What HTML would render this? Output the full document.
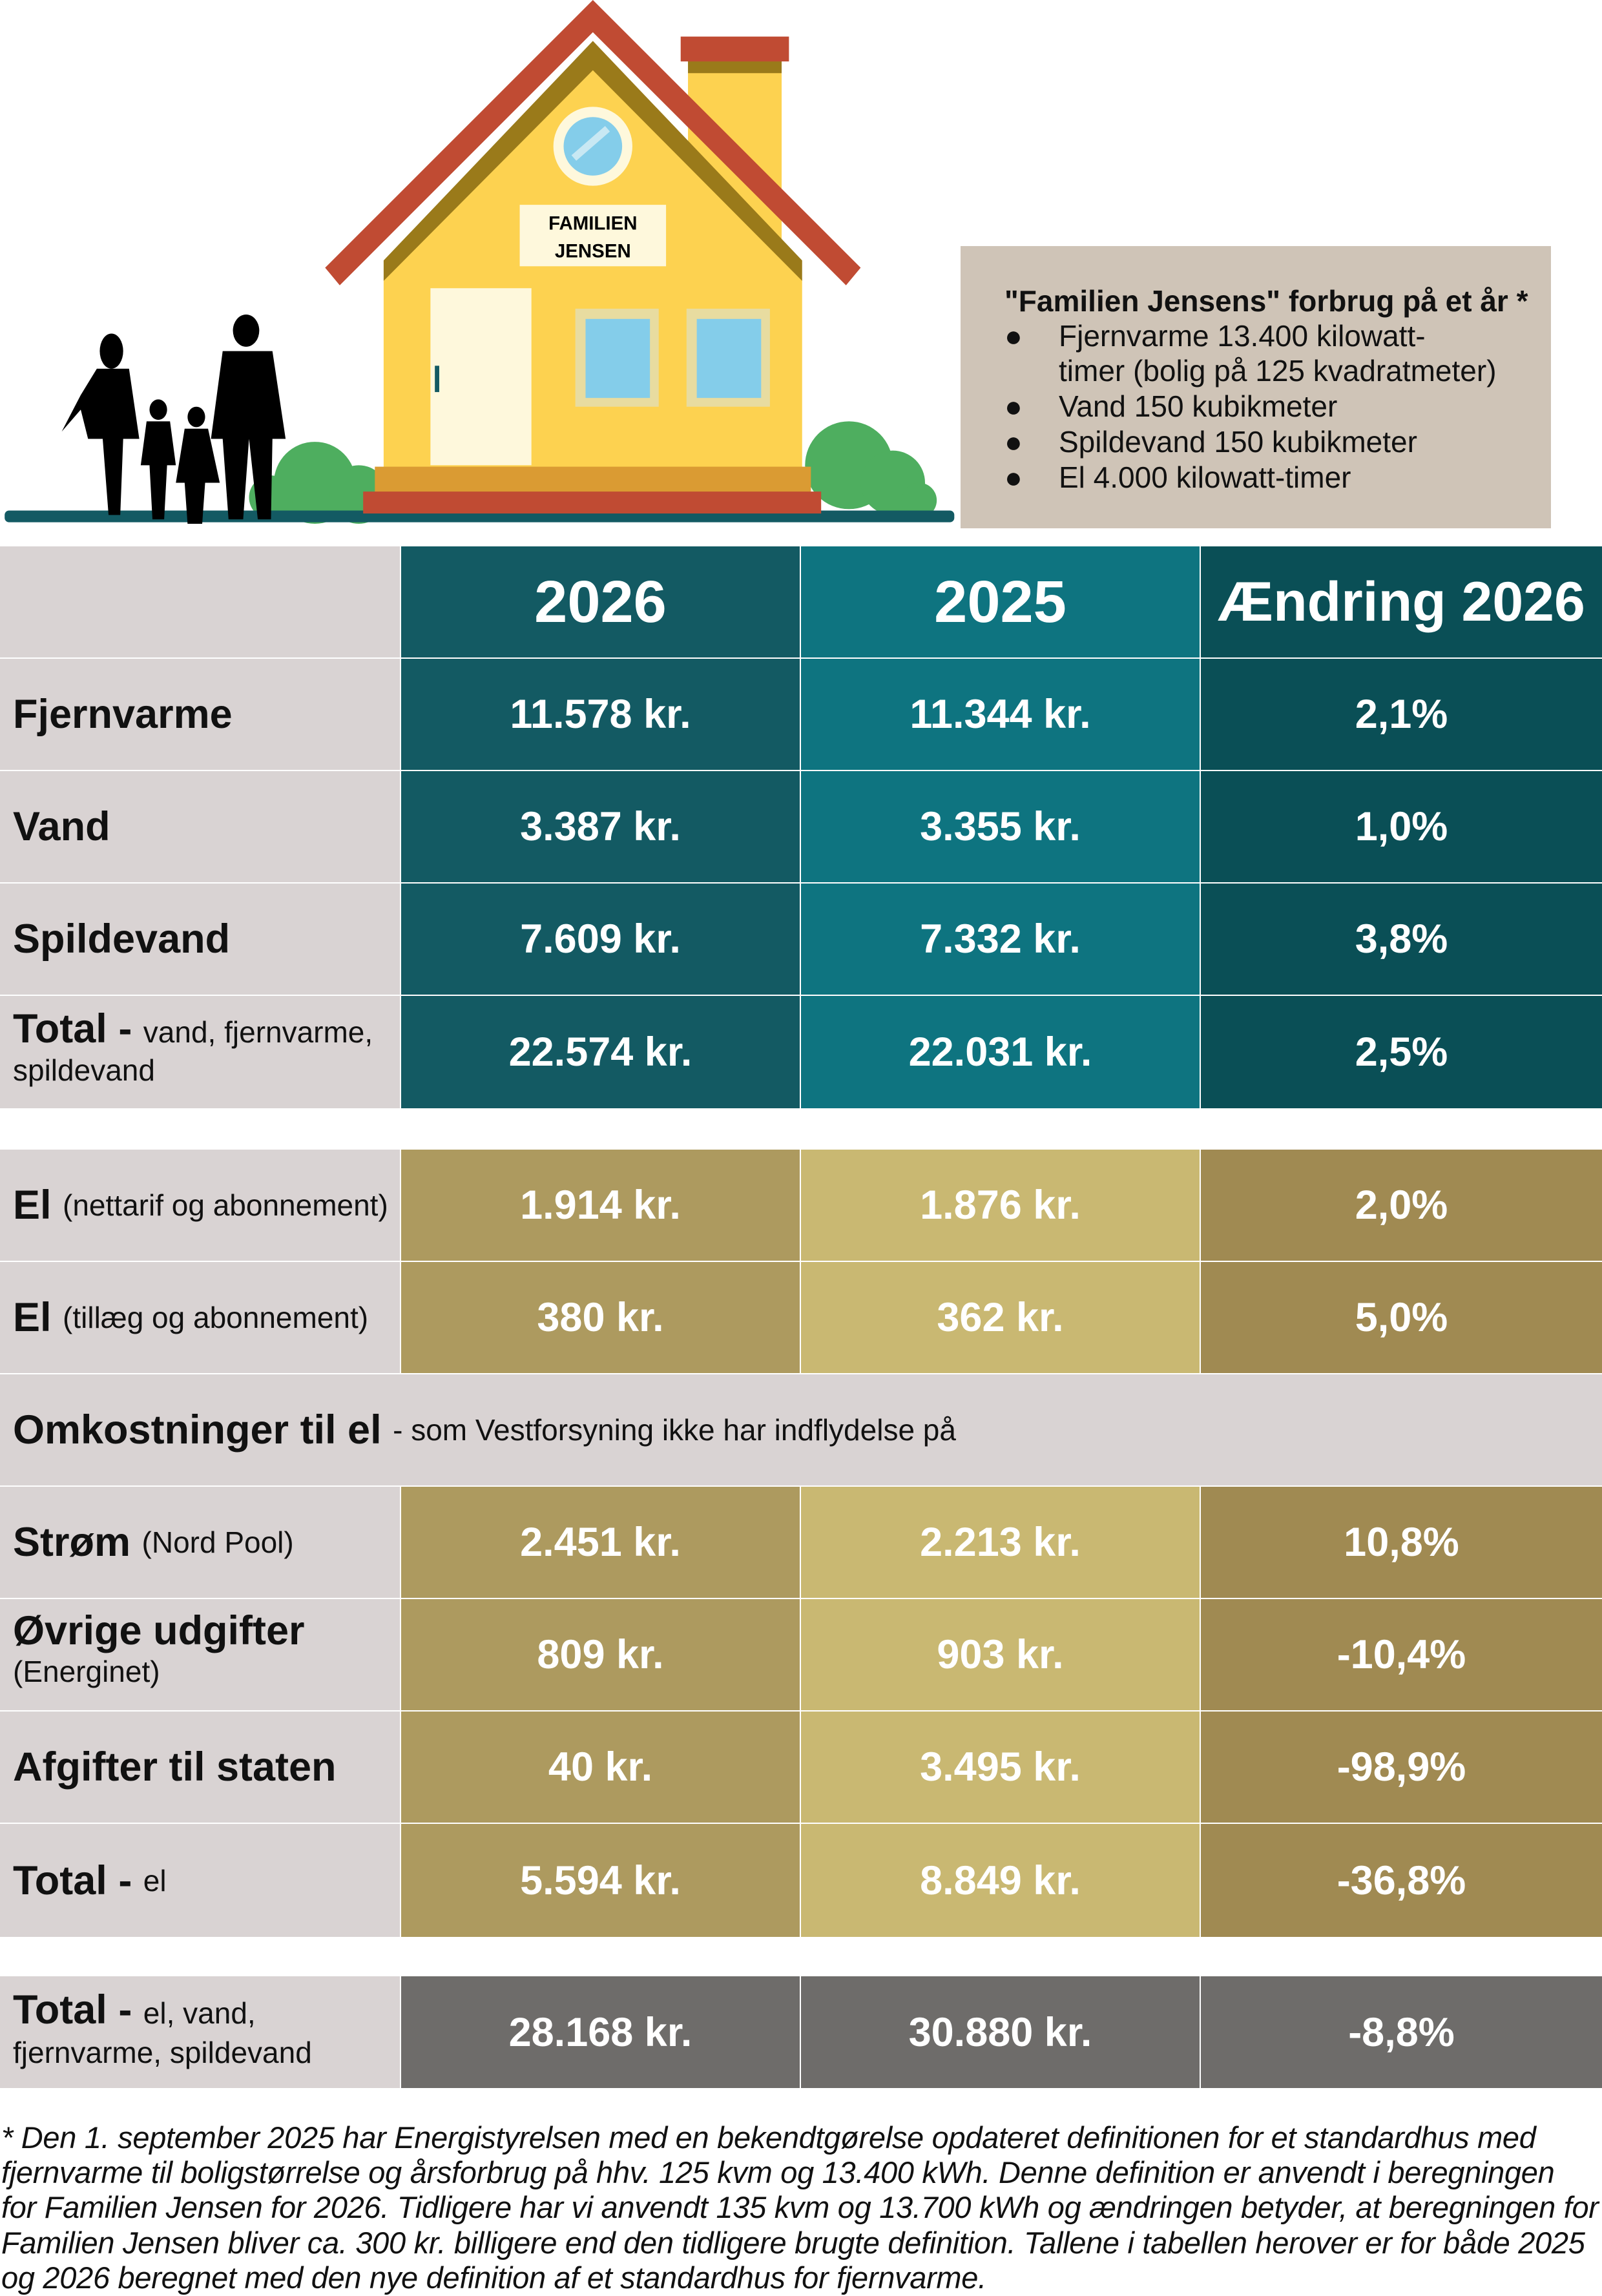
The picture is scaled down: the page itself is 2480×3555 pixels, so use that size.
<!DOCTYPE html>
<html><head><meta charset="utf-8"><style>
*{margin:0;padding:0;box-sizing:border-box}
body{width:2480px;height:3555px;background:#fff;position:relative;overflow:hidden;font-family:"Liberation Sans",sans-serif;color:#111}
.c{position:absolute;display:flex;align-items:center;justify-content:center;color:#fff;font-weight:bold;font-size:63px}
.l{position:absolute;background:#d9d3d3;display:flex;align-items:center;padding-left:20px;font-weight:bold;font-size:63px;color:#111}
.l small{font-weight:normal;font-size:46px}
.h{font-size:92px}
.fn{position:absolute;left:2px;font-style:italic;font-size:47px;white-space:nowrap;color:#111;letter-spacing:-0.3px}
.info{position:absolute;left:1487px;top:381px;width:914px;height:437px;background:#cfc4b7;font-size:46px;color:#111}
.info div{position:absolute;white-space:nowrap}
</style></head><body>

<svg style="position:absolute;left:0;top:0" width="1480" height="820" viewBox="0 0 653 362">
<g fill="#4eae5f">
<circle cx="215" cy="330" r="28"/><circle cx="245" cy="338" r="20"/><circle cx="185" cy="340" r="15"/>
<circle cx="580" cy="318" r="30"/><circle cx="610" cy="330" r="22"/><circle cx="628" cy="342" r="12"/>
</g>
<rect x="3" y="349" width="649" height="8" rx="3" fill="#135a63"/>
<rect x="470" y="40" width="64" height="150" fill="#fdd250"/>
<rect x="470" y="40" width="64" height="10" fill="#9a7a1a"/>
<rect x="465" y="25" width="74" height="17" fill="#c04b33"/>
<polygon points="405,45 548,190 548,320 262,320 262,190" fill="#fdd250"/>
<polygon points="405,28 548,178 548,192 405,48 262,192 262,178" fill="#9a7a1a"/>
<polygon points="405,0 588,183 578,195 405,22 232,195 222,183" fill="#c04b33"/>
<ellipse cx="405" cy="100" rx="27" ry="27" fill="#fef8dc"/>
<ellipse cx="405" cy="100" rx="20" ry="20" fill="#84cdea"/>
<line x1="392" y1="108" x2="415" y2="88" stroke="#c8e8f3" stroke-width="5"/>
<rect x="355" y="140" width="100" height="42" fill="#fef8dc"/>
<text x="405" y="157" font-size="13" font-weight="bold" text-anchor="middle" font-family="Liberation Sans,sans-serif">FAMILIEN</text>
<text x="405" y="176" font-size="13" font-weight="bold" text-anchor="middle" font-family="Liberation Sans,sans-serif">JENSEN</text>
<rect x="294" y="197" width="69" height="121" fill="#fef8dc"/>
<rect x="297" y="250" width="3" height="18" fill="#135a63"/>
<rect x="393" y="211" width="57" height="67" fill="#e8dca0"/><rect x="400" y="218" width="44" height="54" fill="#84cdea"/>
<rect x="469" y="211" width="57" height="67" fill="#e8dca0"/><rect x="476" y="218" width="44" height="54" fill="#84cdea"/>
<rect x="256" y="319" width="298" height="18" fill="#da9b33"/>
<rect x="248" y="336" width="313" height="15" fill="#c04b33"/>
<g fill="#000">
<ellipse cx="76" cy="240" rx="8" ry="12"/><path d="M66 252 L88 252 L95 300 L84 300 L82 352 L74 352 L70 300 L60 300 L55 280 L42 295 L55 270Z"/>
<ellipse cx="108" cy="280" rx="6" ry="7"/><path d="M100 288 L116 288 L120 318 L114 318 L112 355 L104 355 L102 318 L96 318Z"/>
<ellipse cx="134" cy="285" rx="6" ry="7"/><path d="M126 293 L142 293 L150 330 L140 330 L138 358 L128 358 L126 330 L120 330Z"/>
<ellipse cx="168" cy="226" rx="9" ry="11"/><path d="M152 240 L186 240 L195 300 L186 300 L185 355 L176 355 L170 300 L166 355 L156 355 L152 300 L144 300Z"/>
</g>
</svg>

<div class="info">
<div style="left:68px;top:58px;font-weight:bold">"Familien Jensens" forbrug på et år *</div>
<div style="left:68px;top:112px">●</div><div style="left:152px;top:112px">Fjernvarme 13.400 kilowatt-</div>
<div style="left:152px;top:166px">timer (bolig på 125 kvadratmeter)</div>
<div style="left:68px;top:221px">●</div><div style="left:152px;top:221px">Vand 150 kubikmeter</div>
<div style="left:68px;top:276px">●</div><div style="left:152px;top:276px">Spildevand 150 kubikmeter</div>
<div style="left:68px;top:331px">●</div><div style="left:152px;top:331px">El 4.000 kilowatt-timer</div>
</div>

<div class="l" style="left:0;top:846px;width:619px;height:172px"></div>
<div class="c h" style="left:621px;top:846px;width:617px;height:172px;background:#135a63">2026</div>
<div class="c h" style="left:1240px;top:846px;width:617px;height:172px;background:#0e7480">2025</div>
<div class="c h" style="left:1859px;top:846px;width:621px;height:172px;background:#0a4f56;font-size:86px">Ændring 2026</div>

<div class="l" style="left:0;top:1020px;width:619px;height:172px">Fjernvarme</div>
<div class="c" style="left:621px;top:1020px;width:617px;height:172px;background:#135a63">11.578 kr.</div>
<div class="c" style="left:1240px;top:1020px;width:617px;height:172px;background:#0e7480">11.344 kr.</div>
<div class="c" style="left:1859px;top:1020px;width:621px;height:172px;background:#0a4f56">2,1%</div>

<div class="l" style="left:0;top:1194px;width:619px;height:172px">Vand</div>
<div class="c" style="left:621px;top:1194px;width:617px;height:172px;background:#135a63">3.387 kr.</div>
<div class="c" style="left:1240px;top:1194px;width:617px;height:172px;background:#0e7480">3.355 kr.</div>
<div class="c" style="left:1859px;top:1194px;width:621px;height:172px;background:#0a4f56">1,0%</div>

<div class="l" style="left:0;top:1368px;width:619px;height:172px">Spildevand</div>
<div class="c" style="left:621px;top:1368px;width:617px;height:172px;background:#135a63">7.609 kr.</div>
<div class="c" style="left:1240px;top:1368px;width:617px;height:172px;background:#0e7480">7.332 kr.</div>
<div class="c" style="left:1859px;top:1368px;width:621px;height:172px;background:#0a4f56">3,8%</div>

<div class="l" style="left:0;top:1542px;width:619px;height:174px;display:block;padding-top:24px;line-height:54px">Total - <small>vand, fjernvarme,</small><br><small>spildevand</small></div>
<div class="c" style="left:621px;top:1542px;width:617px;height:174px;background:#135a63">22.574 kr.</div>
<div class="c" style="left:1240px;top:1542px;width:617px;height:174px;background:#0e7480">22.031 kr.</div>
<div class="c" style="left:1859px;top:1542px;width:621px;height:174px;background:#0a4f56">2,5%</div>

<div class="l" style="left:0;top:1780px;width:619px;height:172px">El&nbsp;<small>(nettarif og abonnement)</small></div>
<div class="c" style="left:621px;top:1780px;width:617px;height:172px;background:#ad9a5f">1.914 kr.</div>
<div class="c" style="left:1240px;top:1780px;width:617px;height:172px;background:#c9b872">1.876 kr.</div>
<div class="c" style="left:1859px;top:1780px;width:621px;height:172px;background:#a08a52">2,0%</div>

<div class="l" style="left:0;top:1954px;width:619px;height:172px">El&nbsp;<small>(tillæg og abonnement)</small></div>
<div class="c" style="left:621px;top:1954px;width:617px;height:172px;background:#ad9a5f">380 kr.</div>
<div class="c" style="left:1240px;top:1954px;width:617px;height:172px;background:#c9b872">362 kr.</div>
<div class="c" style="left:1859px;top:1954px;width:621px;height:172px;background:#a08a52">5,0%</div>

<div class="l" style="left:0;top:2128px;width:2480px;height:172px">Omkostninger til el&nbsp;<small>- som Vestforsyning ikke har indflydelse på</small></div>

<div class="l" style="left:0;top:2302px;width:619px;height:172px">Strøm&nbsp;<small>(Nord Pool)</small></div>
<div class="c" style="left:621px;top:2302px;width:617px;height:172px;background:#ad9a5f">2.451 kr.</div>
<div class="c" style="left:1240px;top:2302px;width:617px;height:172px;background:#c9b872">2.213 kr.</div>
<div class="c" style="left:1859px;top:2302px;width:621px;height:172px;background:#a08a52">10,8%</div>

<div class="l" style="left:0;top:2476px;width:619px;height:172px;display:block;padding-top:20px;line-height:58px">Øvrige udgifter<br><small>(Energinet)</small></div>
<div class="c" style="left:621px;top:2476px;width:617px;height:172px;background:#ad9a5f">809 kr.</div>
<div class="c" style="left:1240px;top:2476px;width:617px;height:172px;background:#c9b872">903 kr.</div>
<div class="c" style="left:1859px;top:2476px;width:621px;height:172px;background:#a08a52">-10,4%</div>

<div class="l" style="left:0;top:2650px;width:619px;height:172px">Afgifter til staten</div>
<div class="c" style="left:621px;top:2650px;width:617px;height:172px;background:#ad9a5f">40 kr.</div>
<div class="c" style="left:1240px;top:2650px;width:617px;height:172px;background:#c9b872">3.495 kr.</div>
<div class="c" style="left:1859px;top:2650px;width:621px;height:172px;background:#a08a52">-98,9%</div>

<div class="l" style="left:0;top:2824px;width:619px;height:175px">Total -&nbsp;<small>el</small></div>
<div class="c" style="left:621px;top:2824px;width:617px;height:175px;background:#ad9a5f">5.594 kr.</div>
<div class="c" style="left:1240px;top:2824px;width:617px;height:175px;background:#c9b872">8.849 kr.</div>
<div class="c" style="left:1859px;top:2824px;width:621px;height:175px;background:#a08a52">-36,8%</div>

<div class="l" style="left:0;top:3060px;width:619px;height:173px;display:block;padding-top:24px;line-height:56px">Total - <small>el, vand,</small><br><small>fjernvarme, spildevand</small></div>
<div class="c" style="left:621px;top:3060px;width:617px;height:173px;background:#6e6c6a">28.168 kr.</div>
<div class="c" style="left:1240px;top:3060px;width:617px;height:173px;background:#6e6c6a">30.880 kr.</div>
<div class="c" style="left:1859px;top:3060px;width:621px;height:173px;background:#6e6c6a">-8,8%</div>

<div class="fn" style="top:3282px">* Den 1. september 2025 har Energistyrelsen med en bekendtgørelse opdateret definitionen for et standardhus med</div>
<div class="fn" style="top:3336px">fjernvarme til boligstørrelse og årsforbrug på hhv. 125 kvm og 13.400 kWh. Denne definition er anvendt i beregningen</div>
<div class="fn" style="top:3390px">for Familien Jensen for 2026. Tidligere har vi anvendt 135 kvm og 13.700 kWh og ændringen betyder, at beregningen for</div>
<div class="fn" style="top:3445px">Familien Jensen bliver ca. 300 kr. billigere end den tidligere brugte definition. Tallene i tabellen herover er for både 2025</div>
<div class="fn" style="top:3499px">og 2026 beregnet med den nye definition af et standardhus for fjernvarme.</div>
</body></html>
